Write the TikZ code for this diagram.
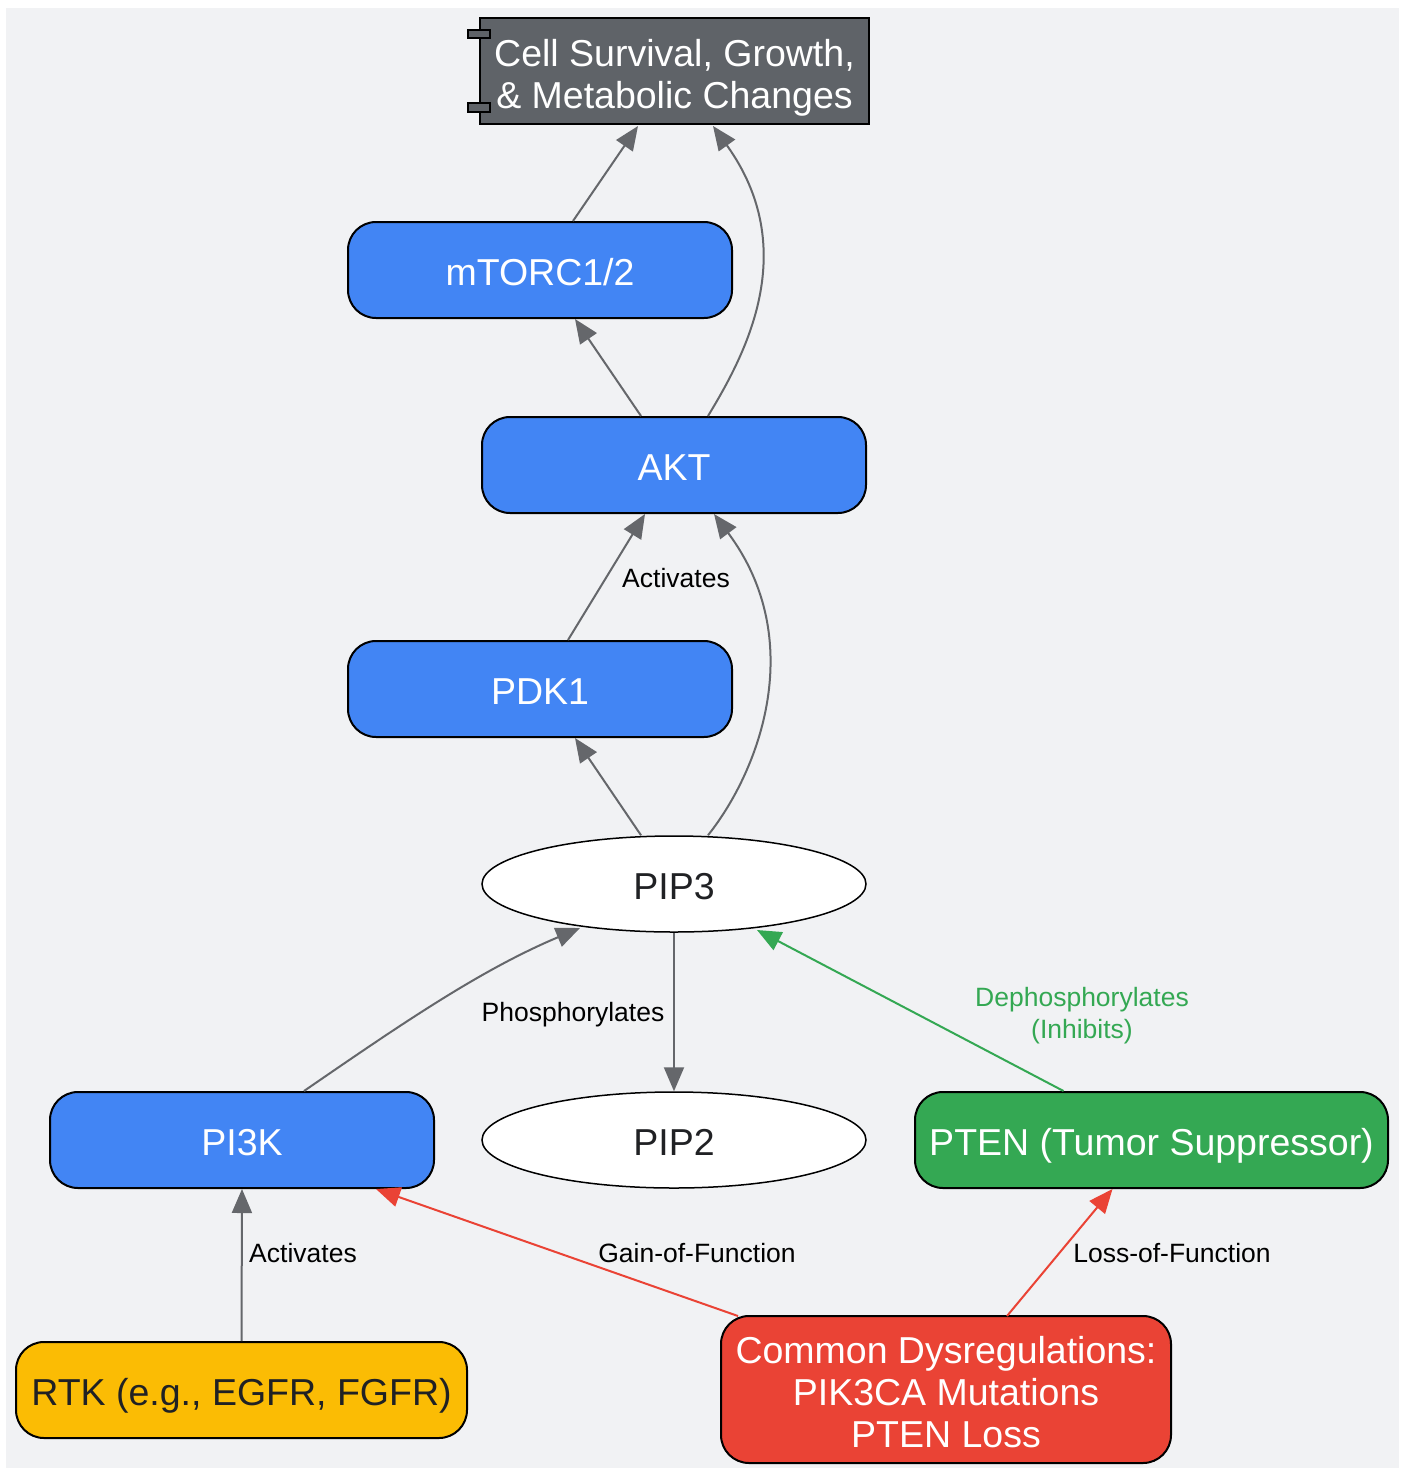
\documentclass[tikz,border=0pt]{standalone}
\usepackage{fontspec}
\setmainfont{Liberation Sans}
\usetikzlibrary{shapes.geometric,arrows.meta,calc}
\definecolor{bgc}{HTML}{F1F2F4}
\definecolor{gblue}{HTML}{4285F4}
\definecolor{ggreen}{HTML}{34A853}
\definecolor{gred}{HTML}{EA4335}
\definecolor{gyellow}{HTML}{FBBC04}
\definecolor{ggray}{HTML}{5F6368}
\definecolor{gdark}{HTML}{202124}
\definecolor{edgec}{HTML}{65676B}
\tikzset{
  box/.style={draw=black, line width=2pt, rounded corners=28pt, minimum width=384pt, minimum height=96pt, inner sep=0pt, align=center, font=\fontsize{37.5}{42}\selectfont},
  oneline/.style={text height=34pt, text depth=3pt},
  bluebox/.style={box, oneline, fill=gblue, text=white},
  ell/.style={ellipse, oneline, draw=black, line width=1.5pt, fill=white, minimum width=384pt, minimum height=96pt, inner sep=0pt, text=gdark, font=\fontsize{37.5}{42}\selectfont},
  conn/.style={draw=edgec, line width=2pt, -{Triangle[length=24pt,width=20pt]}},
  lbl/.style={font=\fontsize{26.5}{32}\selectfont, text=black, align=center, inner sep=0pt},
}
\begin{document}
\begin{tikzpicture}[x=1pt,y=-1pt]
\useasboundingbox (0,0) rectangle (1405,1470);
\fill[bgc] (6,8) rectangle (1399,1468);
% nodes
\node[draw=black, line width=2pt, fill=ggray, text=white, minimum width=389pt, minimum height=106pt, inner sep=0pt, align=center, font=\fontsize{37.5}{42}\selectfont] (cell) at (674.5,71) {\rule{0pt}{40pt}Cell Survival, Growth,\\\& Metabolic Changes};
\draw[line width=2pt, fill=ggray] (468,30) rectangle (490,38);
\draw[line width=2pt, fill=ggray] (468,103) rectangle (490,112);
\node[bluebox] (mtor) at (540,270) {mTORC1/2};
\node[bluebox] (akt) at (674,465) {AKT};
\node[bluebox] (pdk) at (540,689) {PDK1};
\node[ell] (pip3) at (674,884) {PIP3};
\node[bluebox] (pi3k) at (242,1140) {PI3K};
\node[ell] (pip2) at (674,1140) {PIP2};
\node[box, oneline, fill=ggreen, text=white, minimum width=473pt] (pten) at (1151.5,1140) {PTEN (Tumor Suppressor)};
\node[box, oneline, fill=gyellow, text=gdark, minimum width=451pt] (rtk) at (241.5,1390) {RTK (e.g., EGFR, FGFR)};
\node[box, fill=gred, text=white, minimum width=450pt, minimum height=147pt] (dys) at (946,1389.5) {\rule{0pt}{31.5pt}Common Dysregulations:\\PIK3CA Mutations\\PTEN Loss};
% edges
\draw[conn] ([xshift=33pt]mtor.north) -- (638,126);
\draw[conn] ([xshift=34pt]akt.north) .. controls (745,355) and (802,250) .. (713,126);
\draw[conn] ([xshift=-33pt]akt.north) -- ([xshift=35pt]mtor.south);
\draw[conn] ([xshift=28pt]pdk.north) -- ([xshift=-29pt]akt.south);
\draw[conn] ([xshift=34pt]pip3.north) .. controls (760,770) and (808,640) .. ([xshift=40pt]akt.south);
\draw[conn] ([xshift=-33pt]pip3.north) -- ([xshift=35pt]pdk.south);
\draw[conn] ([xshift=62pt]pi3k.north) .. controls (400,1025) and (480,970) .. (580,928);
\draw[conn] (pip3.south) -- (pip2.north);
\draw[conn, draw=ggreen] ([xshift=-88pt]pten.north) -- (757,930);
\draw[conn] (rtk.north) -- (pi3k.south);
\draw[conn, draw=gred] (738,1316) -- ([xshift=134pt]pi3k.south);
\draw[conn, draw=gred] (1007,1316) -- ([xshift=-39pt]pten.south);
% labels
\node[lbl] (l1) at (676,578) {Activates};
\node[lbl] (l2) at (573,1015) {Phosphorylates};
\node[lbl, text=ggreen] (l3) at (1082,1016) {Dephosphorylates\\(Inhibits)};
\node[lbl] (l4) at (303,1253) {Activates};
\node[lbl] (l5) at (697,1253) {Gain-of-Function};
\node[lbl] (l6) at (1172,1253) {Loss-of-Function};
\end{tikzpicture}
\end{document}
